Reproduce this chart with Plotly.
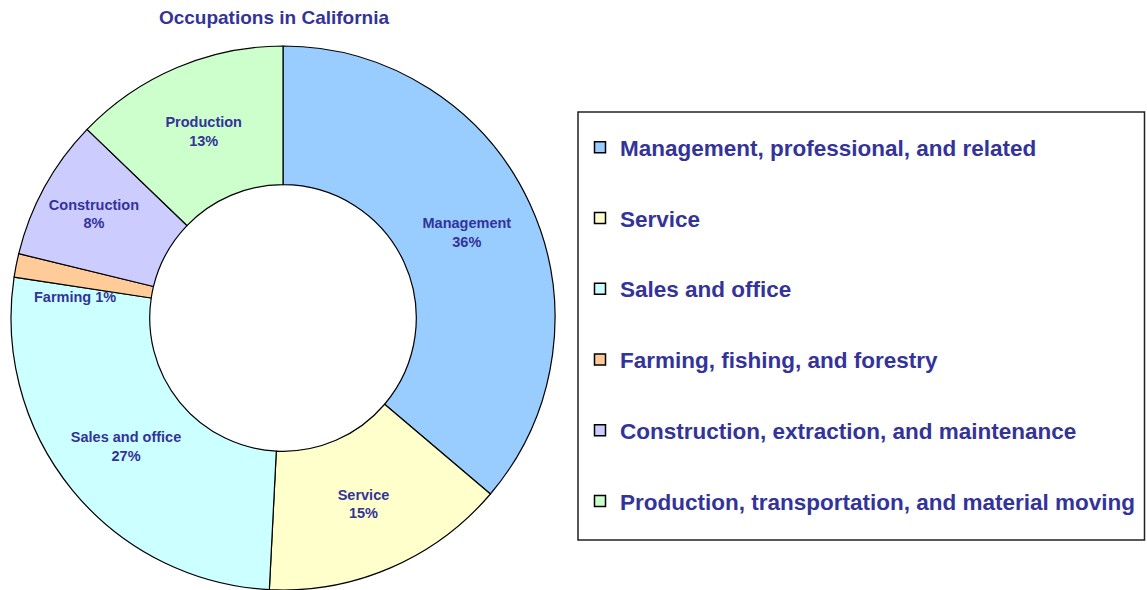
import math
import plotly.graph_objects as go

categories = ["Management", "Service", "Sales and office", "Farming", "Construction", "Production"]
legend_names = [
    "Management, professional, and related",
    "Service",
    "Sales and office",
    "Farming, fishing, and forestry",
    "Construction, extraction, and maintenance",
    "Production, transportation, and material moving",
]
values = [36.2, 14.6, 26.6, 1.4, 8.4, 12.8]
colors = ["#99CCFF", "#FFFFCC", "#CCFFFF", "#FFCC99", "#CCCCFF", "#CCFFCC"]
TEXT = "#333399"
FONT = "Liberation Sans, Arial, sans-serif"

W, H = 1147, 590
T_MARGIN = 46
PH = H - T_MARGIN          # plotting height = pie diameter
HOLE = 0.49

total = sum(values)
texts = []
for c, v in zip(categories, values):
    p = round(100 * v / total)
    texts.append("" if c == "Farming" else f"{c}<br>{p}%")

fig = go.Figure()
fig.add_trace(go.Pie(
    labels=categories,
    values=values,
    text=texts,
    textinfo="text",
    textposition="inside",
    insidetextorientation="horizontal",
    sort=False,
    direction="clockwise",
    rotation=0,
    hole=HOLE,
    marker=dict(colors=colors, line=dict(color="#000000", width=1.2)),
    textfont=dict(family=FONT, size=14.5, color=TEXT, weight="bold"),
    showlegend=False,
    domain=dict(x=[0, 566 / W], y=[0, 1]),
))

# dummy traces for a spaced legend
for i, (name, col) in enumerate(zip(legend_names, colors)):
    fig.add_trace(go.Scatter(
        x=[None], y=[None], mode="markers", name=name,
        legendgroup=f"g{i}",
        marker=dict(symbol="square", size=11, color=col, line=dict(color="#000000", width=1.5)),
    ))

# label for the tiny Farming slice, positioned from its cumulative angle
cum = sum(values[:3])
ang = math.radians(360 * cum / total - 3)
R = PH / 2
r_lbl = 0.77 * R
cx = 283
cy = PH / 2
fx = (cx + r_lbl * math.sin(ang)) / W
fy = (cy + r_lbl * math.cos(ang)) / PH
p_f = round(100 * values[3] / total)
fig.add_annotation(x=fx, y=fy, xref="paper", yref="paper", showarrow=False,
                   text=f"{categories[3]} {p_f}%", xanchor="center", yanchor="middle",
                   font=dict(family=FONT, size=14.5, color=TEXT, weight="bold"))

# legend frame
fig.add_shape(type="rect", xref="paper", yref="paper",
              x0=578 / W, x1=1144.5 / W, y0=(H - 540) / PH, y1=(H - 112) / PH,
              line=dict(color="#222222", width=1.5), fillcolor="white", layer="below")

fig.update_layout(
    width=W, height=H,
    margin=dict(l=0, r=0, t=T_MARGIN, b=0),
    paper_bgcolor="white", plot_bgcolor="white",
    title=dict(text="Occupations in California", x=274 / W, xanchor="center",
               y=1 - 17 / H, yanchor="middle",
               font=dict(family=FONT, size=19, color=TEXT, weight="bold")),
    xaxis=dict(visible=False), yaxis=dict(visible=False),
    legend=dict(x=580 / W, xanchor="left", y=(H - 126) / PH, yanchor="top",
                bgcolor="rgba(0,0,0,0)", borderwidth=0,
                tracegroupgap=38.5,
                font=dict(family=FONT, size=22.5, color=TEXT, weight="bold")),
)

fig.write_html("out.html",
               config={"displayModeBar": False},
               post_script="document.body.style.margin='0';document.body.style.overflow='hidden';")
